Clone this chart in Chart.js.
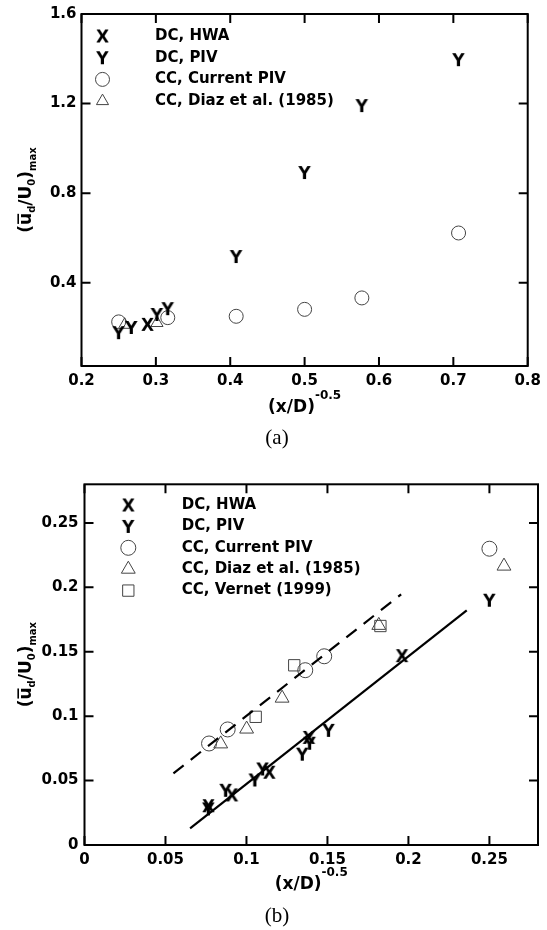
<!DOCTYPE html>
<html>
<head>
<meta charset="utf-8">
<script src="https://cdn.jsdelivr.net/npm/chart.js"></script>
<style>
  html, body { margin: 0; padding: 0; background: #fff; }
  body { width: 547px; height: 930px; position: relative; overflow: hidden; }
  canvas { position: absolute; left: 0; }
  #chartA { top: 0; }
  #chartB { top: 460px; }
</style>
</head>
<body>
<canvas id="chartA" width="547" height="460"></canvas>
<canvas id="chartB" width="547" height="470"></canvas>
<script>
// panel (a): whole range of (x/D)^-0.5
const aTicksX = [0.2, 0.3, 0.4, 0.5, 0.6, 0.7, 0.8];
const aTicksY = [0.4, 0.8, 1.2, 1.6];
const aHwaX = [0.2887];
const aHwaY = [0.214];
const aPivX = [0.25, 0.267, 0.3015, 0.316, 0.408, 0.5, 0.577, 0.707];
const aPivY = [0.177, 0.2, 0.258, 0.284, 0.517, 0.892, 1.191, 1.396];
const aCurX = [0.25, 0.316, 0.408, 0.5, 0.577, 0.707];
const aCurY = [0.225, 0.244, 0.25, 0.281, 0.332, 0.622];
const aDiazX = [0.258, 0.3015];
const aDiazY = [0.212, 0.22];

// panel (b): far field, with linear fits
const bTicksX = [0, 0.05, 0.1, 0.15, 0.2, 0.25];
const bTicksY = [0, 0.05, 0.1, 0.15, 0.2, 0.25];
const bHwaX = [0.0765, 0.091, 0.1141, 0.1385, 0.196];
const bHwaY = [0.0305, 0.0389, 0.0565, 0.0835, 0.147];
const bPivX = [0.0765, 0.0872, 0.1052, 0.11, 0.1345, 0.139, 0.1507, 0.25];
const bPivY = [0.028, 0.0425, 0.0505, 0.059, 0.0705, 0.079, 0.089, 0.19];
const bCurX = [0.0769, 0.0884, 0.1363, 0.148, 0.25];
const bCurY = [0.0788, 0.0897, 0.1357, 0.1465, 0.23];
const bDiazX = [0.0841, 0.1001, 0.122, 0.1817, 0.259];
const bDiazY = [0.0785, 0.09, 0.114, 0.1705, 0.2165];
const bVernetX = [0.1057, 0.1295, 0.1827];
const bVernetY = [0.0995, 0.1395, 0.17];
const bFitCcX = [0.0549, 0.1955];
const bFitCcY = [0.0556, 0.1946];
const bFitDcX = [0.0652, 0.236];
const bFitDcY = [0.0129, 0.1822];

const FONT = '"DejaVu Sans", sans-serif';
const pts = (xs, ys) => xs.map((x, i) => ({ x, y: ys[i] }));

// letter symbols used as point styles
function glyph(ch, size) {
  const c = document.createElement('canvas');
  c.width = c.height = Math.ceil(size * 1.2);
  const g = c.getContext('2d');
  g.font = `bold ${size}px ${FONT}`;
  g.textAlign = 'center';
  g.fillStyle = '#000';
  g.fillText(ch, c.width / 2, c.height / 2 + size * 0.729 / 2);
  return c;
}
const markX = glyph('X', 17);
const markY = glyph('Y', 17);

function drawSymbol(ctx, style, r, px, py) {
  if (typeof style !== 'string') {
    ctx.drawImage(style, px - style.width / 2, py - style.height / 2);
    return;
  }
  ctx.save();
  ctx.strokeStyle = '#444';
  ctx.lineWidth = 1;
  ctx.beginPath();
  if (style === 'circle') {
    ctx.arc(px, py, r, 0, Math.PI * 2);
  } else if (style === 'triangle') {
    for (let k = 0; k < 3; k++) {
      const ang = k * 2 * Math.PI / 3;
      const fx = px + Math.sin(ang) * r, fy = py - Math.cos(ang) * r;
      k ? ctx.lineTo(fx, fy) : ctx.moveTo(fx, fy);
    }
    ctx.closePath();
  } else {
    const s = Math.SQRT1_2 * r;
    ctx.rect(px - s, py - s, 2 * s, 2 * s);
  }
  ctx.stroke();
  ctx.restore();
}

function drawRuns(ctx, runs, x, y) {
  runs.forEach(([t, size, dy, bar]) => {
    ctx.font = `bold ${size}px ${FONT}`;
    const w = ctx.measureText(t).width;
    ctx.fillText(t, x, y + dy);
    if (bar) {
      ctx.fillRect(x + 1, y - size * 0.8, w - 2, 1.6);
    }
    x += w;
  });
}
function runsWidth(ctx, runs) {
  return runs.reduce((s, [t, size]) => {
    ctx.font = `bold ${size}px ${FONT}`;
    return s + ctx.measureText(t).width;
  }, 0);
}

const xTitle = [['(x/D)', 17, 0], ['-0.5', 12, -13]];
const yTitle = [['(', 17, 0], ['u', 17, 0, true], ['d', 10, 4], ['/U', 17, 0], ['0', 10, 4], [')', 17, 0], ['max', 10, 5]];

// frame with inward ticks, axis titles, legend and caption
const decor = {
  id: 'decor',
  afterDraw(chart, args, o) {
    const { ctx, chartArea: a, scales: { x, y } } = chart;
    const tl = 9;
    ctx.save();
    ctx.strokeStyle = '#000';
    ctx.lineWidth = 2;
    ctx.beginPath();
    o.ticksX.forEach(v => {
      const px = x.getPixelForValue(v);
      ctx.moveTo(px, a.bottom); ctx.lineTo(px, a.bottom - tl);
      ctx.moveTo(px, a.top); ctx.lineTo(px, a.top + tl);
    });
    o.ticksY.forEach(v => {
      const py = y.getPixelForValue(v);
      ctx.moveTo(a.left, py); ctx.lineTo(a.left + tl, py);
      ctx.moveTo(a.right, py); ctx.lineTo(a.right - tl, py);
    });
    ctx.stroke();
    ctx.strokeRect(a.left, a.top, a.right - a.left, a.bottom - a.top);

    ctx.fillStyle = '#000';
    ctx.textBaseline = 'alphabetic';
    ctx.textAlign = 'left';
    const xw = runsWidth(ctx, xTitle);
    drawRuns(ctx, xTitle, (a.left + a.right) / 2 - xw / 2, a.bottom + o.xTitleDy);

    ctx.save();
    ctx.translate(o.yTitleX, (a.top + a.bottom) / 2);
    ctx.rotate(-Math.PI / 2);
    const yw = runsWidth(ctx, yTitle);
    drawRuns(ctx, yTitle, -yw / 2, 0);
    ctx.restore();

    ctx.textBaseline = 'middle';
    o.legend.forEach(([style, r, label], i) => {
      const ly = o.legendY + i * o.legendDy;
      drawSymbol(ctx, style, r, o.legendSymX, ly);
      ctx.fillStyle = '#000';
      ctx.font = `bold 15px ${FONT}`;
      ctx.fillText(label, o.legendTextX, ly);
    });

    ctx.font = `21px "Liberation Serif", serif`;
    ctx.textAlign = 'center';
    ctx.textBaseline = 'alphabetic';
    ctx.fillText(o.caption, o.captionX, o.captionY);
    ctx.restore();
  }
};

function axis(min, max, ticks, fixedSize, pad) {
  return {
    type: 'linear',
    min, max,
    grid: { display: false, drawTicks: false },
    border: { display: false },
    afterBuildTicks: s => { s.ticks = ticks.map(v => ({ value: v })); },
    afterFit: s => {
      if (s.isHorizontal()) s.height = fixedSize; else s.width = fixedSize;
    },
    ticks: {
      padding: pad,
      color: '#000',
      font: { family: FONT, weight: 'bold', size: 15 },
      callback: v => String(v)
    }
  };
}

function glyphSet(label, data, style) {
  return { label, data, pointStyle: style, pointRadius: 8, showLine: false };
}
function shapeSet(label, data, style, r) {
  return {
    label, data, pointStyle: style, pointRadius: r, showLine: false,
    pointBorderColor: '#444', pointBackgroundColor: 'rgba(0,0,0,0)', pointBorderWidth: 1
  };
}
function fitSet(data, dash) {
  return {
    data, showLine: true, pointRadius: 0, borderColor: '#000',
    borderWidth: 2.2, borderDash: dash, tension: 0
  };
}

const common = {
  responsive: false,
  animation: false,
  events: [],
  clip: false
};

new Chart(document.getElementById('chartA'), {
  type: 'scatter',
  data: {
    datasets: [
      glyphSet('DC, HWA', pts(aHwaX, aHwaY), markX),
      glyphSet('DC, PIV', pts(aPivX, aPivY), markY),
      shapeSet('CC, Current PIV', pts(aCurX, aCurY), 'circle', 7),
      shapeSet('CC, Diaz et al. (1985)', pts(aDiazX, aDiazY), 'triangle', 7)
    ]
  },
  options: {
    ...common,
    layout: { padding: { left: 21.5, right: 14, top: 12.3, bottom: 64 } },
    scales: {
      x: axis(0.2, 0.8, aTicksX, 30, 6),
      y: axis(0.028, 1.6, aTicksY, 60, 5)
    },
    plugins: {
      legend: { display: false },
      tooltip: { enabled: false },
      decor: {
        ticksX: aTicksX, ticksY: aTicksY,
        xTitleDy: 46, yTitleX: 31,
        legend: [[markX, 0, 'DC, HWA'], [markY, 0, 'DC, PIV'],
                 ['circle', 7, 'CC, Current PIV'], ['triangle', 7, 'CC, Diaz et al. (1985)']],
        legendSymX: 102.5, legendTextX: 155, legendY: 36, legendDy: 21.7,
        caption: '(a)', captionX: 277, captionY: 444
      }
    }
  },
  plugins: [decor]
});

new Chart(document.getElementById('chartB'), {
  type: 'scatter',
  data: {
    datasets: [
      fitSet(pts(bFitCcX, bFitCcY), [13, 9]),
      fitSet(pts(bFitDcX, bFitDcY), []),
      glyphSet('DC, HWA', pts(bHwaX, bHwaY), markX),
      glyphSet('DC, PIV', pts(bPivX, bPivY), markY),
      shapeSet('CC, Current PIV', pts(bCurX, bCurY), 'circle', 7.5),
      shapeSet('CC, Diaz et al. (1985)', pts(bDiazX, bDiazY), 'triangle', 8),
      shapeSet('CC, Vernet (1999)', pts(bVernetX, bVernetY), 'rect', 8)
    ]
  },
  options: {
    ...common,
    layout: { padding: { left: 24.5, right: 4, top: 24.3, bottom: 55 } },
    scales: {
      x: axis(0, 0.28, bTicksX, 30, 6),
      y: axis(0, 0.28, bTicksY, 60, 6)
    },
    plugins: {
      legend: { display: false },
      tooltip: { enabled: false },
      decor: {
        ticksX: bTicksX, ticksY: bTicksY,
        xTitleDy: 44, yTitleX: 31,
        legend: [[markX, 0, 'DC, HWA'], [markY, 0, 'DC, PIV'],
                 ['circle', 7.5, 'CC, Current PIV'], ['triangle', 8, 'CC, Diaz et al. (1985)'],
                 ['rect', 8, 'CC, Vernet (1999)']],
        legendSymX: 128.3, legendTextX: 181.7, legendY: 45, legendDy: 21.4,
        caption: '(b)', captionX: 277, captionY: 462
      }
    }
  },
  plugins: [decor]
});
</script>
</body>
</html>
